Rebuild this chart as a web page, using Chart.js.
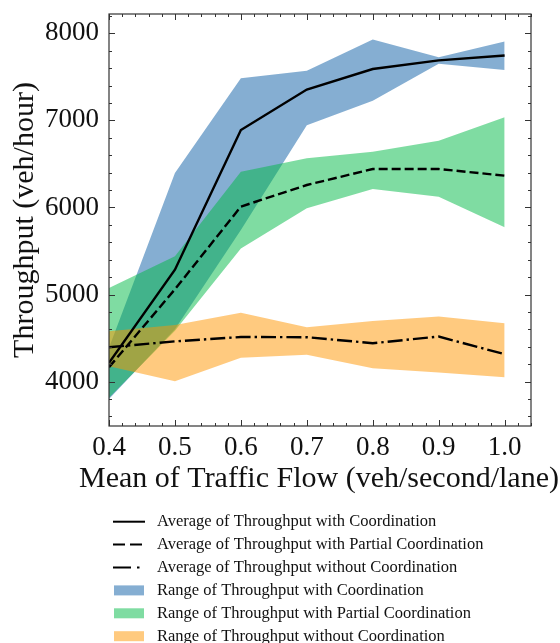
<!DOCTYPE html>
<html>
<head>
<meta charset="utf-8">
<script src="https://cdn.jsdelivr.net/npm/chart.js@4.4.1/dist/chart.umd.min.js"></script>
<style>
  html, body { margin: 0; padding: 0; background: #fff; }
  #chart { display: block; }
</style>
</head>
<body>
<canvas id="chart" width="560" height="643"></canvas>
<script>
// traffic flow (veh/second/lane)
const flow = [0.4, 0.5, 0.6, 0.7, 0.8, 0.9, 1.0];

// averages
const avgCoord   = [4215, 5285, 6890, 7355, 7590, 7690, 7745];
const avgPartial = [4165, 5060, 6010, 6258, 6442, 6442, 6365];
const avgNone    = [4395, 4462, 4512, 4510, 4441, 4517, 4315];

// ranges
const lowCoord    = [3800, 4600, 5740, 6945, 7225, 7650, 7580];
const highCoord   = [4390, 6395, 7485, 7570, 7930, 7725, 7905];
const lowPartial  = [3815, 4585, 5530, 5990, 6213, 6124, 5773];
const highPartial = [5075, 5440, 6410, 6565, 6641, 6767, 7036];
const lowNone     = [4175, 4005, 4273, 4307, 4154, 4104, 4051];
const highNone    = [4577, 4650, 4790, 4625, 4697, 4747, 4671];

const xTicks = [0.4, 0.5, 0.6, 0.7, 0.8, 0.9, 1.0];
const yTicks = [4000, 5000, 6000, 7000, 8000];

const xTitle = 'Mean of Traffic Flow (veh/second/lane)';
const yTitle = 'Throughput (veh/hour)';
const legendLabels = [
  'Average of Throughput with Coordination',
  'Average of Throughput with Partial Coordination',
  'Average of Throughput without Coordination',
  'Range of Throughput with Coordination',
  'Range of Throughput with Partial Coordination',
  'Range of Throughput without Coordination'
];

const serif = "'Liberation Serif', 'Times New Roman', serif";
const blue = 'rgba(12,93,165,0.5)';
const green = 'rgba(0,185,69,0.5)';
const orange = 'rgba(255,149,0,0.5)';
const dashed = [9, 4];
const dashDot = [15, 4, 2.4, 4];

const pts = arr => flow.map((x, i) => ({ x, y: arr[i] }));

function avgLine(label, data, dash) {
  return {
    label, data: pts(data), borderColor: '#000', borderWidth: 2.4,
    borderDash: dash, borderCapStyle: 'butt', pointRadius: 0, fill: false, tension: 0
  };
}
function edge(label, data, color, target) {
  return {
    label, data: pts(data), borderColor: 'rgba(0,0,0,0)', borderWidth: 0,
    backgroundColor: color, pointRadius: 0, tension: 0,
    fill: target === undefined ? false : { target }
  };
}

// Frame with inward major/minor ticks on all four sides, plus the x title
// (Chart.js squeezes scale titles to the axis width, this one is wider)
const framePlugin = {
  id: 'frame',
  afterDraw(chart) {
    const { ctx, chartArea: a, scales: { x, y } } = chart;
    ctx.save();
    ctx.strokeStyle = '#333';
    ctx.lineWidth = 1;
    ctx.beginPath();
    const tick = (px, len, vertical) => {
      if (vertical) {
        ctx.moveTo(px, a.bottom); ctx.lineTo(px, a.bottom - len);
        ctx.moveTo(px, a.top); ctx.lineTo(px, a.top + len);
      } else {
        ctx.moveTo(a.left, px); ctx.lineTo(a.left + len, px);
        ctx.moveTo(a.right, px); ctx.lineTo(a.right - len, px);
      }
    };
    for (let i = 20; i <= 52; i++) tick(Math.round(x.getPixelForValue(i * 0.02)) + 0.5, i % 5 === 0 ? 6 : 3, true);
    for (let v = 3600; v <= 8200; v += 200) tick(Math.round(y.getPixelForValue(v)) + 0.5, v % 1000 === 0 ? 6 : 3, false);
    ctx.stroke();
    ctx.lineWidth = 1.2;
    ctx.strokeRect(a.left, a.top, a.right - a.left, a.bottom - a.top);

    ctx.font = '30px ' + serif;
    ctx.fillStyle = '#111';
    ctx.textAlign = 'center';
    ctx.textBaseline = 'alphabetic';
    ctx.fillText(xTitle, (a.left + a.right) / 2 - 1, a.bottom + 61);
    ctx.restore();
  }
};

// Vertical legend under the axes
const legendPlugin = {
  id: 'vlegend',
  afterDraw(chart) {
    const ctx = chart.ctx;
    const dashes = [[], [12, 5], [18, 6, 2.5, 6]];
    const fills = [blue, green, orange];
    ctx.save();
    ctx.font = '16.5px ' + serif;
    ctx.textBaseline = 'middle';
    legendLabels.forEach((text, i) => {
      const yy = 521.7 + i * 22.9;
      if (i < 3) {
        ctx.setLineDash(dashes[i]);
        ctx.strokeStyle = '#000';
        ctx.lineWidth = 2;
        ctx.beginPath();
        ctx.moveTo(113, yy);
        ctx.lineTo(145, yy);
        ctx.stroke();
        ctx.setLineDash([]);
      } else {
        ctx.fillStyle = fills[i - 3];
        ctx.fillRect(114, yy - 5, 30, 10);
      }
      ctx.fillStyle = '#111';
      ctx.fillText(text, 157, yy);
    });
    ctx.restore();
  }
};

new Chart(document.getElementById('chart'), {
  type: 'line',
  data: {
    datasets: [
      avgLine(legendLabels[0], avgCoord, []),
      avgLine(legendLabels[1], avgPartial, dashed),
      avgLine(legendLabels[2], avgNone, dashDot),
      edge(legendLabels[5], highNone, orange, 4),
      edge('lowNone', lowNone, orange),
      edge(legendLabels[4], highPartial, green, 6),
      edge('lowPartial', lowPartial, green),
      edge(legendLabels[3], highCoord, blue, 8),
      edge('lowCoord', lowCoord, blue)
    ]
  },
  options: {
    responsive: false,
    devicePixelRatio: 1,
    animation: false,
    events: [],
    layout: { padding: { left: 0, top: 14, right: 29, bottom: 137 } },
    plugins: { legend: { display: false }, tooltip: { enabled: false } },
    scales: {
      x: {
        type: 'linear', min: 0.4, max: 1.04,
        afterBuildTicks: s => { s.ticks = xTicks.map(v => ({ value: v })); },
        afterFit: s => { s.height = 80; s.paddingLeft = 0; s.paddingRight = 0; },
        grid: { display: false }, border: { display: false },
        ticks: { padding: -2, color: '#111', font: { family: serif, size: 27 }, callback: v => v.toFixed(1) },
        title: { display: false }
      },
      y: {
        type: 'linear', min: 3490, max: 8222,
        afterBuildTicks: s => { s.ticks = yTicks.map(v => ({ value: v })); },
        afterFit: s => { s.width = 109; s.paddingTop = 0; s.paddingBottom = 0; },
        grid: { display: false }, border: { display: false },
        ticks: { padding: 2, color: '#111', font: { family: serif, size: 27 }, callback: v => String(v) },
        title: { display: true, text: yTitle, color: '#111',
          font: { family: serif, size: 30 }, padding: { top: 7, bottom: 0 } }
      }
    }
  },
  plugins: [framePlugin, legendPlugin]
});
</script>
</body>
</html>
